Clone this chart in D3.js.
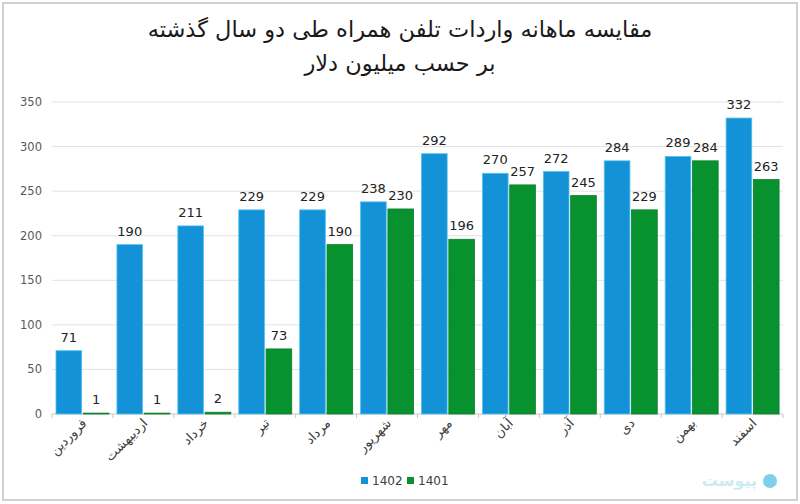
<!DOCTYPE html>
<html>
<head>
<meta charset="utf-8">
<script src="https://cdn.jsdelivr.net/npm/d3@7"></script>
<style>
  body { margin: 0; background: #fff; }
  svg { display: block; }
</style>
</head>
<body>
<svg id="chart"></svg>
<script>
// months of the Persian year
var months = ['فروردین', 'اردیبهشت', 'خرداد', 'تیر', 'مرداد', 'شهریور', 'مهر', 'آبان', 'آذر', 'دی', 'بهمن', 'اسفند']
var series = ['1402', '1401']
var values1402 = [71, 190, 211, 229, 229, 238, 292, 270, 272, 284, 289, 332]
var values1401 = [1, 1, 2, 73, 190, 230, 196, 257, 245, 229, 284, 263]
var yTicks = [0, 50, 100, 150, 200, 250, 300, 350]
var titleLines = ['مقایسه  ماهانه واردات تلفن همراه طی دو سال گذشته', 'بر حسب میلیون دلار']

var colors = { '1402': '#1492d7', '1401': '#07922f' }
var edge = { '1402': '#53c3ee', '1401': '#0a7f2a' }

var width = 800, height = 504
var svg = d3.select('#chart').attr('width', width).attr('height', height)
var font = '"DejaVu Sans", "Noto Sans", sans-serif'

svg.append('rect')
    .attr('x', 3).attr('y', 3).attr('width', 794).attr('height', 497)
    .attr('fill', '#fff').attr('stroke', '#cfcfcf').attr('stroke-width', 2)

// title
svg.selectAll('text.title')
    .data(titleLines)
    .enter().append('text')
    .attr('class', 'title')
    .attr('x', 400)
    .attr('y', (d, i) => 37 + i * 34)
    .attr('text-anchor', 'middle')
    .attr('font-family', font)
    .attr('font-size', 22.5)
    .attr('fill', '#1a1a1a')
    .text(d => d)

var x0 = d3.scaleBand().domain(months).range([52, 783])
var x1 = d3.scaleBand().domain(series).range([4, 57]).paddingInner(0.06)
var y = d3.scaleLinear().domain([0, 350]).range([414, 102])

// grid
svg.append('g')
    .selectAll('line')
    .data(yTicks)
    .enter().append('line')
    .attr('x1', 52).attr('x2', 783)
    .attr('y1', d => y(d)).attr('y2', d => y(d))
    .attr('stroke', d => d === 0 ? '#c8c8c8' : '#e2e2e2')
    .attr('stroke-width', 1)

svg.append('g')
    .selectAll('text')
    .data(yTicks)
    .enter().append('text')
    .attr('x', 42)
    .attr('y', d => y(d) + 4)
    .attr('text-anchor', 'end')
    .attr('font-family', font)
    .attr('font-size', 11.5)
    .attr('fill', '#595959')
    .text(d => d)

// small separators between months
svg.append('g')
    .selectAll('line')
    .data(months.concat(['end']))
    .enter().append('line')
    .attr('x1', (d, i) => 52 + i * x0.step())
    .attr('x2', (d, i) => 52 + i * x0.step())
    .attr('y1', 414).attr('y2', 418)
    .attr('stroke', '#c8c8c8')

var rows = months.map((m, i) => ({ month: m, vals: [{ s: '1402', v: values1402[i] }, { s: '1401', v: values1401[i] }] }))

var group = svg.append('g').selectAll('g')
    .data(rows)
    .enter().append('g')
    .attr('transform', d => 'translate(' + x0(d.month) + ',0)')

group.selectAll('rect')
    .data(d => d.vals)
    .enter().append('rect')
    .attr('x', d => x1(d.s))
    .attr('width', x1.bandwidth())
    .attr('y', d => y(d.v))
    .attr('height', d => y(0) - y(d.v))
    .attr('fill', d => colors[d.s])
    .attr('stroke', d => edge[d.s])
    .attr('stroke-width', 0.8)

group.selectAll('text')
    .data(d => d.vals)
    .enter().append('text')
    .attr('x', d => x1(d.s) + x1.bandwidth() / 2)
    .attr('y', d => y(d.v) - 9)
    .attr('text-anchor', 'middle')
    .attr('font-family', font)
    .attr('font-size', 13)
    .attr('fill', '#222')
    .text(d => d.v)

// month labels, rotated
svg.append('g')
    .selectAll('text')
    .data(months)
    .enter().append('text')
    .attr('transform', d => 'translate(' + (x0(d) + x0.bandwidth() / 2 + 5) + ',424) rotate(-45)')
    .attr('text-anchor', 'end')
    .attr('font-family', font)
    .attr('font-size', 13)
    .attr('fill', '#404040')
    .text(d => d)

// legend
var legend = svg.append('g').selectAll('g')
    .data(series)
    .enter().append('g')
    .attr('transform', (d, i) => 'translate(' + (361 + i * 46) + ',477)')
legend.append('rect')
    .attr('width', 7).attr('height', 7)
    .attr('fill', d => colors[d])
legend.append('text')
    .attr('x', 11).attr('y', 8)
    .attr('font-family', font)
    .attr('font-size', 12)
    .attr('fill', '#404040')
    .text(d => d)

// faint watermark logo
svg.append('circle')
    .attr('cx', 770).attr('cy', 481).attr('r', 7)
    .attr('fill', '#7fd0ea')
svg.append('text')
    .attr('x', 757).attr('y', 486)
    .attr('text-anchor', 'end')
    .attr('font-family', font)
    .attr('font-size', 16)
    .attr('font-weight', 'bold')
    .attr('fill', '#cdebf4')
    .text('پیوست')
</script>
</body>
</html>
